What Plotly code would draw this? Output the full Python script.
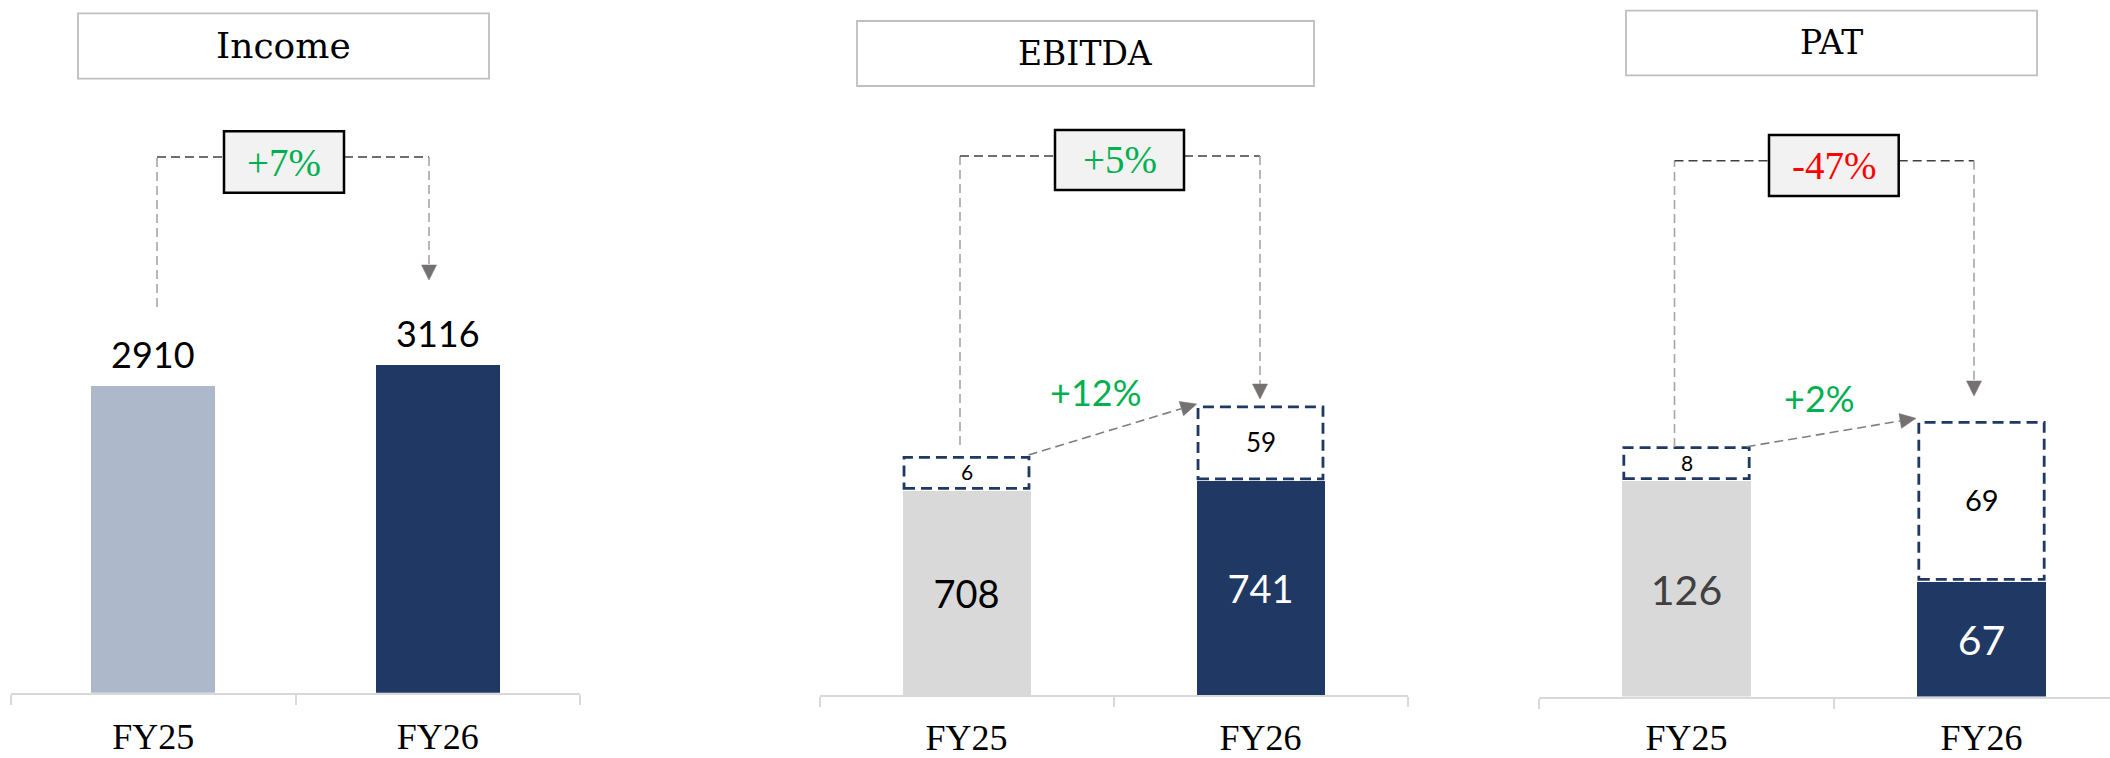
import math
import plotly.graph_objects as go

W, H = 2110, 758

# ---------------- data ----------------
categories = ["FY25", "FY26"]
titles = ["Income", "EBITDA", "PAT"]
income = [2910, 3116]
ebitda = [708, 741]
ebitda_oneoff = [6, 59]
pat = [126, 67]
pat_oneoff = [8, 69]
growth_reported = ["+7%", "+5%", "-47%"]
growth_adjusted = ["+12%", "+2%"]

# ---------------- style ----------------
NAVY = "#203864"
LIGHT_BLUE = "#ADB9CA"
LIGHT_GREY = "#D9D9D9"
GREEN = "#00B050"
RED = "#FF0000"
SERIF_T = "DejaVu Serif"
SERIF = "Liberation Serif"
SANS = "Lato"
title_sizes = [36, 33, 33]

growth_colors = [GREEN if g.startswith("+") else RED for g in growth_reported]

# panel geometry in pixels (left edge, category pitch, baseline, px per unit)
panel_left = [11, 819.5, 1539]
panel_pitch = [284.5, 294, 295]
panel_base = [692.7, 695, 696.5]
panel_ppu = [0.1053, 0.2883, 1.710]
panel_standoff = [11, 10, 8]
bar_width = 0.437


def px(x):
    return x / W


def py(y):
    return 1 - y / H


fig = go.Figure()

series = [income, ebitda, pat]
bar_colors = [[LIGHT_BLUE, NAVY], [LIGHT_GREY, NAVY], [LIGHT_GREY, NAVY]]
inside_text_colors = [None, ["#000000", "#FFFFFF"], ["#404040", "#FFFFFF"]]
inside_text_size = [None, 38, 41]

for i in range(3):
    ax = "" if i == 0 else str(i + 1)
    left = panel_left[i]
    right = min(left + 2 * panel_pitch[i], W)
    xr = [-0.5, -0.5 + (right - left) / panel_pitch[i]]
    base = panel_base[i]
    yr = [0, base / panel_ppu[i]]
    fig.update_layout(**{
        f"xaxis{ax}": dict(
            domain=[px(left), px(right)], anchor=f"y{ax}", type="category",
            categoryorder="array", categoryarray=categories, range=xr,
            showline=True, linecolor=LIGHT_GREY, linewidth=2,
            ticks="outside", tickson="boundaries", ticklen=10, tickwidth=2,
            tickcolor=LIGHT_GREY, showgrid=False, zeroline=False,
            tickfont=dict(family=SERIF, size=36, color="#000000"),
            ticklabelstandoff=panel_standoff[i], automargin=False, fixedrange=True,
        ),
        f"yaxis{ax}": dict(
            domain=[(H - base) / H, 1], anchor=f"x{ax}", range=yr,
            visible=False, showgrid=False, zeroline=False, fixedrange=True,
            automargin=False,
        ),
    })
    trace = dict(
        x=categories, y=series[i], xaxis=f"x{ax}", yaxis=f"y{ax}",
        width=bar_width, marker=dict(color=bar_colors[i], line=dict(width=0)),
        hoverinfo="skip", showlegend=False,
    )
    if i > 0:
        trace.update(
            text=[str(v) for v in series[i]], textposition="inside",
            insidetextanchor="middle", textangle=0,
            textfont=dict(family=SANS, size=inside_text_size[i],
                          color=inside_text_colors[i]),
        )
    fig.add_trace(go.Bar(**trace))

shapes = []
annotations = []

# Income value labels above bars
for j, v in enumerate(income):
    annotations.append(dict(
        x=categories[j], y=v, xref="x", yref="y", text=str(v), showarrow=False,
        yanchor="middle", yshift=32, font=dict(family=SANS, size=36, color="#000000"),
    ))

# dashed one-off boxes stacked on top of EBITDA / PAT bars
oneoffs = [(2, ebitda, ebitda_oneoff, [31, 72], [21, 26]),
           (3, pat, pat_oneoff, [31, 157], [21, 29])]
for axn, vals, adds, hpx, fs in oneoffs:
    for j in range(2):
        gap = 2.5
        shapes.append(dict(
            type="rect", xref=f"x{axn}", yref=f"y{axn}", ysizemode="pixel",
            yanchor=vals[j], y0=gap, y1=gap + hpx[j],
            x0=j - bar_width / 2 + 0.006, x1=j + bar_width / 2 - 0.006,
            line=dict(color=NAVY, width=2.8, dash="11px,6px"),
            fillcolor="rgba(0,0,0,0)", layer="above",
        ))
        annotations.append(dict(
            x=categories[j], y=vals[j], xref=f"x{axn}", yref=f"y{axn}",
            text=str(adds[j]), showarrow=False, yanchor="middle",
            yshift=gap + hpx[j] / 2 + 1,
            font=dict(family=SANS, size=fs[j], color="#000000"),
        ))

# title boxes
title_boxes = [(78, 489, 13.3, 78.7), (857, 1314, 21, 86), (1626, 2037, 10.6, 75.4)]
for i, (x0, x1, y0, y1) in enumerate(title_boxes):
    shapes.append(dict(type="rect", xref="paper", yref="paper",
                       x0=px(x0), x1=px(x1), y0=py(y1), y1=py(y0),
                       line=dict(color="#BFBFBF", width=1.8), fillcolor="#FFFFFF",
                       layer="below"))
    annotations.append(dict(x=px((x0 + x1) / 2), y=py((y0 + y1) / 2 - 0.5),
                            xref="paper", yref="paper", text=titles[i],
                            showarrow=False, xanchor="center", yanchor="middle",
                            font=dict(family=SERIF_T, size=title_sizes[i],
                                      color="#000000")))

H_DASH = "#404040"
V_DASH = "#A6A6A6"
ARROW = "#767171"


def seg(x0, y0, x1, y1, color, width=1.6, dash="9px,5px"):
    shapes.append(dict(type="line", xref="paper", yref="paper",
                       x0=px(x0), y0=py(y0), x1=px(x1), y1=py(y1),
                       line=dict(color=color, width=width, dash=dash)))


def arrow_head(sx, sy, tx, ty, length=15, half=7.5):
    d = math.hypot(tx - sx, ty - sy)
    ux, uy = (tx - sx) / d, (ty - sy) / d
    bx, by = tx - ux * length, ty - uy * length
    nx, ny = -uy, ux
    pts = [(tx, ty), (bx + nx * half, by + ny * half), (bx - nx * half, by - ny * half)]
    path = "M " + " L ".join(f"{px(x):.6f},{py(y):.6f}" for x, y in pts) + " Z"
    shapes.append(dict(type="path", xref="paper", yref="paper", path=path,
                       fillcolor=ARROW, line=dict(color=ARROW, width=0.5)))
    return bx, by


# reported-growth connectors with boxed percentage
connectors = [
    dict(lx=157, ly=307, rx=429, tip=280, hy=157, box=(224, 344, 131.3, 192.7)),
    dict(lx=960, ly=445, rx=1260, tip=399, hy=156, box=(1055, 1184, 130, 190)),
    dict(lx=1674.5, ly=447, rx=1974, tip=396, hy=160.7, box=(1769, 1898.7, 135, 196)),
]
for i, c in enumerate(connectors):
    bx0, bx1, by0, by1 = c["box"]
    seg(c["lx"], c["ly"], c["lx"], c["hy"], V_DASH)
    seg(c["lx"], c["hy"], bx0, c["hy"], H_DASH)
    seg(bx1, c["hy"], c["rx"], c["hy"], H_DASH)
    hx, hy = arrow_head(c["rx"], c["hy"], c["rx"], c["tip"])
    seg(c["rx"], c["hy"], c["rx"], hy, V_DASH)
    shapes.append(dict(type="rect", xref="paper", yref="paper",
                       x0=px(bx0), x1=px(bx1), y0=py(by1), y1=py(by0),
                       line=dict(color="#000000", width=2.5), fillcolor="#F2F2F2"))
    annotations.append(dict(x=px((bx0 + bx1) / 2), y=py((by0 + by1) / 2),
                            xref="paper", yref="paper", text=growth_reported[i],
                            showarrow=False, xanchor="center", yanchor="middle",
                            font=dict(family=SERIF, size=39, color=growth_colors[i])))

# adjusted-growth diagonal arrows
diagonals = [((1028.5, 455), (1196.7, 404)), ((1746.7, 446.7), (1916, 418.3))]
adj_text_pos = [(1096, 392), (1819, 398)]
for k, ((sx, sy), (tx, ty)) in enumerate(diagonals):
    hx, hy = arrow_head(sx, sy, tx, ty, length=16, half=7.5)
    seg(sx, sy, hx, hy, "#808080", width=1.6, dash="9px,5px")
    ax_, ay_ = adj_text_pos[k]
    annotations.append(dict(x=px(ax_), y=py(ay_), xref="paper", yref="paper",
                            text=growth_adjusted[k], showarrow=False,
                            xanchor="center", yanchor="middle",
                            font=dict(family=SANS, size=36, color=GREEN)))

fig.update_layout(
    width=W, height=H, margin=dict(l=0, r=0, t=0, b=0, autoexpand=False),
    paper_bgcolor="#FFFFFF", plot_bgcolor="#FFFFFF",
    font=dict(family=SANS, color="#000000"),
    showlegend=False, hovermode=False, bargap=0,
    shapes=shapes, annotations=annotations,
)

fig.write_html(
    "out.html",
    config={"displayModeBar": False},
    post_script="document.body.style.margin='0';document.body.style.padding='0';"
                "document.body.style.overflow='hidden';",
)
